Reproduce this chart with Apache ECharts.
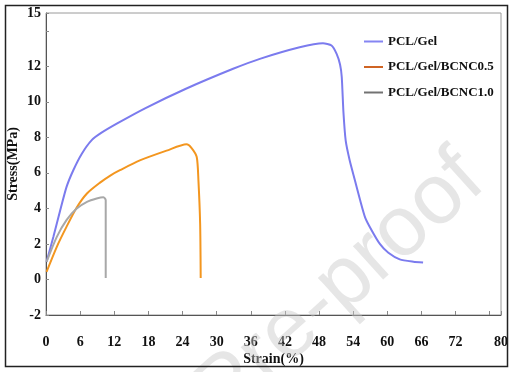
<!DOCTYPE html>
<html>
<head>
<meta charset="utf-8">
<script src="https://cdn.jsdelivr.net/npm/echarts@6/dist/echarts.min.js"></script>
<style>html,body{margin:0;padding:0;background:#fff}#c{width:514px;height:372px}</style>
</head>
<body>
<div id="c"></div>
<script>
var seriesNames = ['PCL/Gel', 'PCL/Gel/BCNC0.5', 'PCL/Gel/BCNC1.0'];
var pclGelX = [0.1,1.3,2.5,3.6,4.8,6.3,8.0,9.7,12.6,17.5,24.7,32.9,37.6,44.6,48.7,50.2,51.1,51.7,52.0,52.3,52.7,53.4,54.3,55.2,56.1,57.2,58.7,60.2,62.2,64.6,66.3];
var pclGelY = [1.0,2.4,3.9,5.2,6.15,7.08,7.83,8.25,8.8,9.65,10.75,11.86,12.42,13.07,13.3,13.17,12.7,12.1,11.4,9.4,7.8,6.7,5.6,4.5,3.5,2.8,2.0,1.5,1.13,1.0,0.95];
var bcnc05X = [0.1,1.9,3.6,5.4,7.2,9.5,11.3,13.0,16.5,21.2,24.7,25.6,26.5,26.8,27.1,27.2];
var bcnc05Y = [0.43,1.84,2.96,4.05,4.84,5.45,5.85,6.15,6.7,7.25,7.61,7.4,6.89,5.58,3.15,0.08];
var bcnc10X = [0.1,1.9,3.6,5.4,7.2,8.9,10.1,10.5,10.5];
var bcnc10Y = [0.99,2.4,3.34,3.99,4.37,4.56,4.63,4.46,0.08];
var xTickHidden = [78];
var yTickHidden = [14];

function pairs(xs, ys){ return xs.map(function(x,i){ return [x, ys[i]]; }); }

var font = 'Liberation Serif';
var chart = echarts.init(document.getElementById('c'));
chart.setOption({
  animation: false,
  backgroundColor: '#fff',
  grid: {left: 46, right: 13, top: 13, bottom: 57, show: true, borderColor: '#9a9a9a', borderWidth: 1,
    containLabel: false, outerBoundsMode: 'none'},
  xAxis: {
    type: 'value', min: 0, max: 80, interval: 6,
    name: 'Strain(%)', nameLocation: 'middle', nameGap: 37, nameMoveOverlap: false,
    nameTextStyle: {fontFamily: font, fontWeight: 'bold', fontSize: 14, color: '#111'},
    axisLine: {onZero: false, lineStyle: {color: '#555', width: 1}},
    axisTick: {inside: true, length: 4, lineStyle: {color: '#888'}},
    splitLine: {show: false},
    axisLabel: {margin: 20, fontFamily: font, fontWeight: 'bold', fontSize: 14, color: '#111',
      formatter: function(v){ return xTickHidden.indexOf(v) >= 0 ? '' : v; }}
  },
  yAxis: {
    type: 'value', min: -2, max: 15, interval: 2,
    name: 'Stress(MPa)', nameLocation: 'middle', nameGap: 26, nameMoveOverlap: false,
    nameTextStyle: {fontFamily: font, fontWeight: 'bold', fontSize: 14, color: '#111'},
    axisLine: {show: true, onZero: false, lineStyle: {color: '#555', width: 1}},
    axisTick: {show: true, inside: true, length: 3, lineStyle: {color: '#888'}},
    splitLine: {show: false},
    axisLabel: {margin: 5, fontFamily: font, fontWeight: 'bold', fontSize: 14, color: '#111',
      formatter: function(v){ return yTickHidden.indexOf(v) >= 0 ? '' : v; }}
  },
  legend: {
    orient: 'vertical', left: 364, top: 35, itemGap: 12.5, padding: 0,
    icon: 'rect', itemWidth: 19, itemHeight: 2,
    textStyle: {fontFamily: font, fontWeight: 'bold', fontSize: 13, color: '#111'},
    data: [
      {name: seriesNames[0], itemStyle: {color: '#8585F2'}},
      {name: seriesNames[1], itemStyle: {color: '#CF6424'}},
      {name: seriesNames[2], itemStyle: {color: '#727272'}}
    ]
  },
  series: [
    {name: seriesNames[0], type: 'line', data: pairs(pclGelX, pclGelY), showSymbol: false, smooth: 0.2,
     lineStyle: {color: '#7B7BEE', width: 2}, itemStyle: {color: '#7B7BEE'}},
    {name: seriesNames[1], type: 'line', data: pairs(bcnc05X, bcnc05Y), showSymbol: false, smooth: 0.25,
     lineStyle: {color: '#F3961F', width: 2}, itemStyle: {color: '#F3961F'}},
    {name: seriesNames[2], type: 'line', data: pairs(bcnc10X, bcnc10Y), showSymbol: false, smooth: 0.25,
     lineStyle: {color: '#A8A8A8', width: 2}, itemStyle: {color: '#A8A8A8'}}
  ],
  graphic: [
    {type: 'text', x: 472, y: 168, rotation: 42 * Math.PI / 180, z: 100, silent: true,
     style: {text: 'Journal Pre-proof', fill: 'rgba(200,200,200,0.45)', font: '85px "Liberation Sans"',
       textAlign: 'right', textVerticalAlign: 'middle'}},
    {type: 'rect', z: 101, silent: true, shape: {x: 5.5, y: 5.5, width: 502, height: 361},
     style: {fill: 'none', stroke: '#222', lineWidth: 1.5}}
  ]
});
</script>
</body>
</html>
